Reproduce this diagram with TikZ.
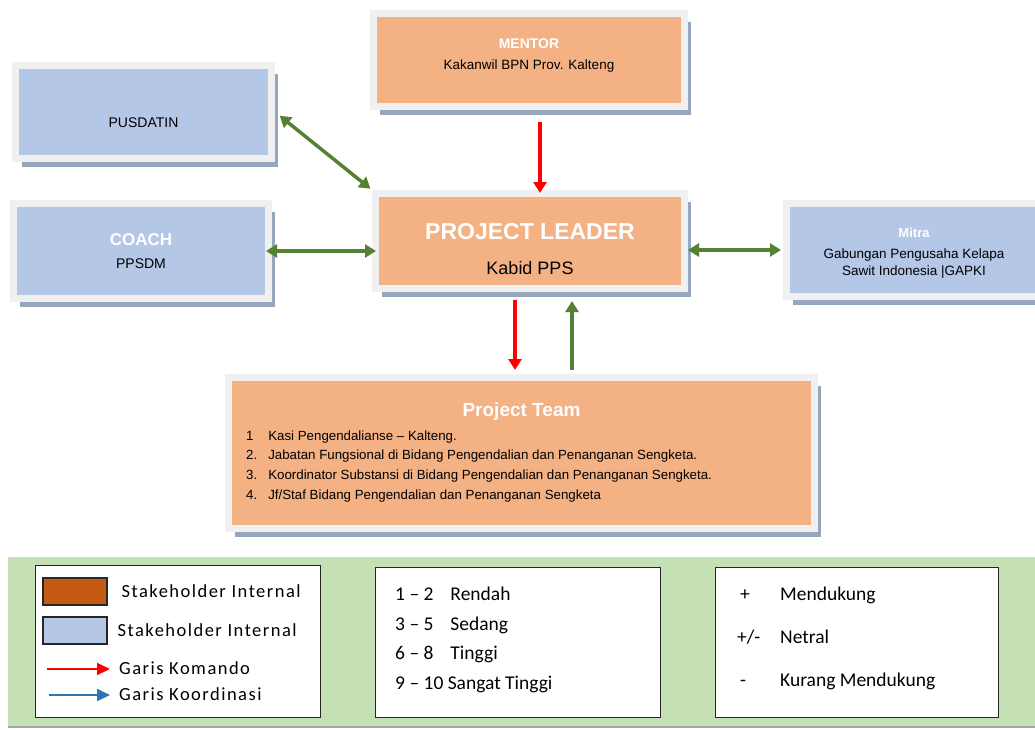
\documentclass[tikz,border=0pt]{standalone}
\usepackage{fontspec}
\setmainfont{Liberation Sans}
\newfontfamily\legfont[Ligatures=TeX]{Carlito}
\newfontfamily\legfontsp[Ligatures=TeX,LetterSpace=8]{Carlito}
\usetikzlibrary{arrows.meta,positioning,shadows,calc}
\definecolor{cOrg} {HTML}{F4B183}
\definecolor{cBlu} {HTML}{B4C7E7}
\definecolor{cFrm} {HTML}{F0F0F0}
\definecolor{cShd} {HTML}{8497B0}
\definecolor{cGrn} {HTML}{548235}
\definecolor{cRed} {HTML}{FF0000}
\definecolor{cBand}{HTML}{C5E0B4}
\definecolor{cSwO} {HTML}{C55A11}
\definecolor{cArB} {HTML}{2E75B6}
\newcommand{\fsz}[1]{\fontsize{#1}{#1}\selectfont}
\tikzset{
  box/.style  ={draw=cFrm,line width=7pt,align=center,inner sep=0pt,
                drop shadow={shadow xshift=6pt,shadow yshift=-8.5pt,
                             fill=cShd,opacity=.85}},
  obox/.style ={box,fill=cOrg},
  bbox/.style ={box,fill=cBlu},
  hd/.style   ={text=white,font=\bfseries},
  cmd/.style  ={draw=cRed,line width=3.5pt,-{Triangle[length=11pt,width=13pt]}},
  crd/.style  ={draw=cGrn,line width=3.5pt,
                {Triangle[length=11pt,width=13pt]}-{Triangle[length=11pt,width=13pt]}},
  cup/.style  ={draw=cGrn,line width=3.5pt,-{Triangle[length=11pt,width=13pt]}},
  lgbox/.style={draw=black!85,line width=1.3pt,fill=white,inner sep=0pt},
  swatch/.style={draw=black!85,line width=1.5pt,minimum width=64,minimum height=27,
                inner sep=0pt},
  lgtxt/.style={font=\legfontsp\fsz{18.5},inner sep=2pt},
  legarr/.style={line width=2pt,-{Triangle[length=13pt,width=12pt]}},
}

\begin{document}
\begin{tikzpicture}[x=1pt,y=-1pt]
\useasboundingbox (0,0) rectangle (1035,729);

% ===== upper row ========================================================
\node[obox,minimum width=311,minimum height=93,font=\fsz{13.5}] (mentor) at (529,60)
  {{\fsz{14}\bfseries\color{white}MENTOR}\\[8pt]Kakanwil BPN Prov. Kalteng\rule[-12pt]{0pt}{0pt}};
\node[bbox,minimum width=256,minimum height=93,font=\fsz{14}] (pusdatin) at (143.5,112)
  {\rule{0pt}{32pt}PUSDATIN};

% ===== middle row =======================================================
\node[bbox,minimum width=255,minimum height=95,font=\fsz{14}] (coach) at (141,251)
  {{\fsz{17}\bfseries\color{white}COACH}\\[9pt]PPSDM};
\node[obox,minimum width=309,minimum height=95,font=\fsz{18}] (pl) at (530,241)
  {\rule{0pt}{33pt}{\fsz{23}\bfseries\color{white}PROJECT LEADER}\\[17pt]Kabid PPS};
\node[bbox,minimum width=255,minimum height=93,font=\fsz{13.5}] (mitra) at (914,250)
  {\rule{0pt}{15.5pt}{\fsz{13}\bfseries\color{white}Mitra}\\[8pt]Gabungan Pengusaha Kelapa\\[3.5pt]
   Sawit Indonesia |GAPKI};

% ===== project team =====================================================
\node[obox,minimum width=586,minimum height=151] (team) at (521.5,453) {};
\node[hd,font=\fsz{19}\bfseries,anchor=center] (tttl) at ($(team.north)+(0,38)$)
  {Project Team};
\node[anchor=north west,align=left,inner sep=0pt,font=\fsz{13.3}] (tlist)
  at ($(team.north west)+(21,57)$)
  {\begin{tabular}{@{}l@{\hspace{11pt}}l@{}}
   1  & Kasi Pengendalianse -- Kalteng.\\[5.5pt]
   2. & Jabatan Fungsional di Bidang Pengendalian dan Penanganan Sengketa.\\[5.5pt]
   3. & Koordinator Substansi di Bidang Pengendalian dan Penanganan Sengketa.\\[6.5pt]
   4. & Jf/Staf Bidang Pengendalian dan Penanganan Sengketa
   \end{tabular}};

% ===== connectors =======================================================
\draw[cmd,shorten <=12pt,shorten >=-3pt]
  ([xshift=11pt]mentor.south) -- ([xshift=11pt]mentor.south |- pl.north);
\draw[crd,shorten <=6pt,shorten >=2pt] (pusdatin.east) -- (pl.north west);
\draw[crd,shorten <=-6pt,shorten >=-4pt] (coach.east) -- (coach.east -| pl.west);
\draw[crd,shorten >=2pt] (mitra.west -| pl.east) -- (mitra.west);
\draw[cmd,shorten <=8pt,shorten >=4pt]
  ([xshift=-15pt]pl.south) -- ([xshift=-15pt]pl.south |- team.north);
\draw[cup,shorten <=4pt,shorten >=9pt]
  ([xshift=42pt]pl.south |- team.north) -- ([xshift=42pt]pl.south);

% ===== legend band ======================================================
\node[fill=cBand,anchor=north west,minimum width=1040,minimum height=169,inner sep=0pt,
      drop shadow={shadow xshift=0pt,shadow yshift=-2pt,fill=black!35,opacity=1}]
  (band) at (8,557) {};

\node[lgbox,anchor=north west,minimum width=285,minimum height=152] (lg1) at (35,565) {};
\node[swatch,fill=cSwO,anchor=north west] (swO) at (42,577) {};
\node[swatch,fill=cBlu,anchor=north west] (swB) at (42,616) {};
\node[lgtxt,right=12pt of swO] (stO) {Stakeholder Internal};
\node[lgtxt,right=8pt of swB]  (stB) {Stakeholder Internal};
\coordinate (komS) at (47,669);
\coordinate (korS) at (49,695);
\node[lgtxt,anchor=west] (kom) at (117,668) {Garis Komando};
\node[lgtxt,anchor=west] (kor) at (117,694) {Garis Koordinasi};
\draw[legarr,draw=cRed] (komS) -- ([xshift=-7pt]kom.west |- komS);
\draw[legarr,draw=cArB] (korS) -- ([xshift=-7pt]kor.west |- korS);

\node[lgbox,anchor=north west,minimum width=285,minimum height=150] (lg2) at (375,567) {};
\node[anchor=north west,align=left,inner sep=0pt,font=\legfont\fsz{19.5}] (skala)
  at (395,587)
  {1 -- 2\hspace{17pt}Rendah\\[10pt]
   3 -- 5\hspace{17pt}Sedang\\[10pt]
   6 -- 8\hspace{17pt}Tinggi\\[10pt]
   9 -- 10 Sangat Tinggi};

\node[lgbox,anchor=north west,minimum width=283,minimum height=150] (lg3) at (715,567) {};
\node[anchor=north west,align=left,inner sep=0pt,font=\legfont\fsz{19.5}] (sikap)
  at (737,587)
  {\makebox[43pt][l]{\hspace{3pt}+}Mendukung\\[23.5pt]
   \makebox[43pt][l]{+/-}Netral\\[23.5pt]
   \makebox[43pt][l]{\hspace{3pt}-}Kurang Mendukung};
\end{tikzpicture}
\end{document}
